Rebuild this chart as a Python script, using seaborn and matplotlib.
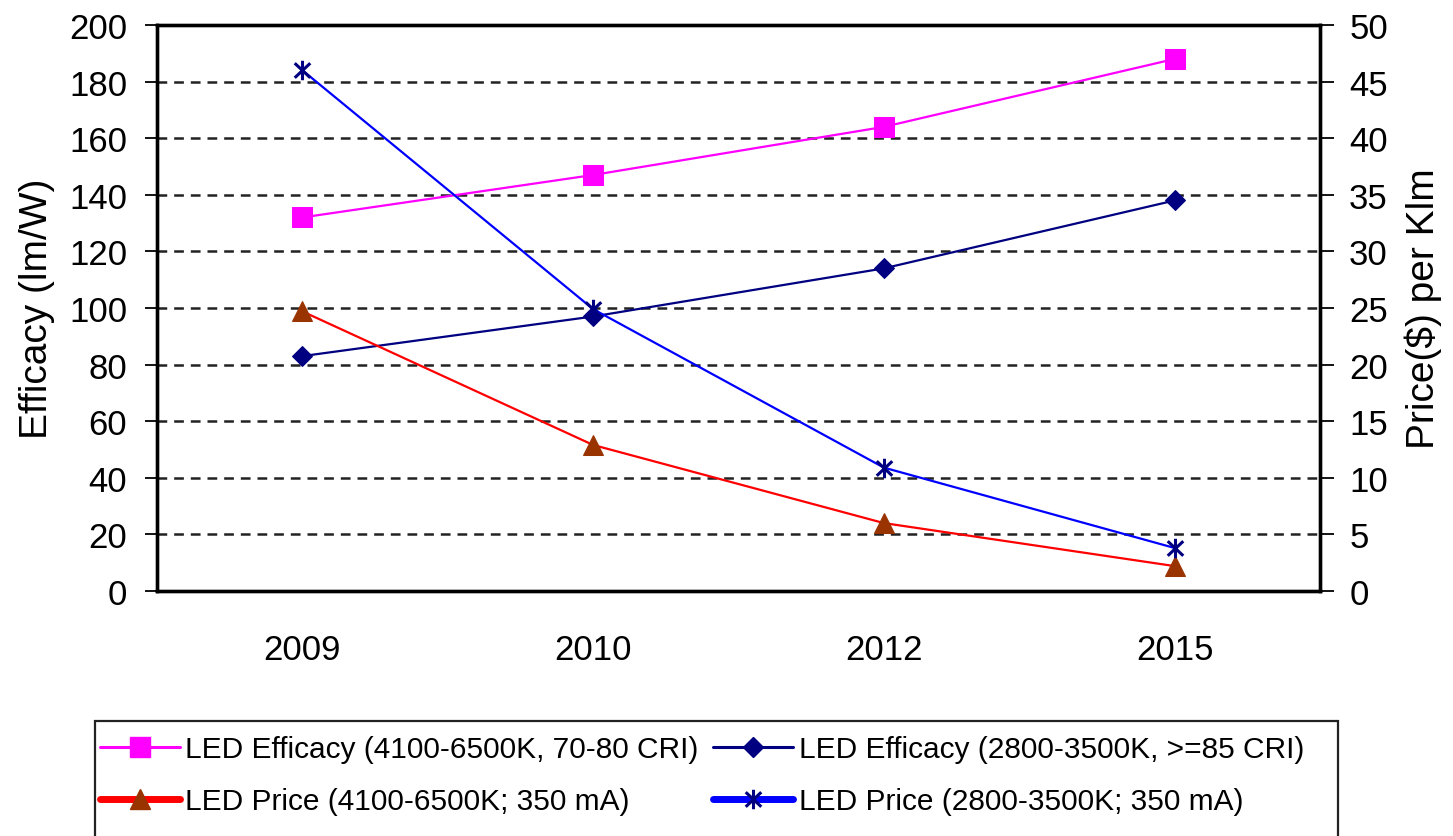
import matplotlib
matplotlib.use("Agg")
import matplotlib.pyplot as plt
from matplotlib.lines import Line2D
from matplotlib.path import Path
from matplotlib.patches import Rectangle
import seaborn as sns
import pandas as pd

# ---- data ----
years = ["2009", "2010", "2012", "2015"]
efficacy_cool = [132, 147, 164, 188]      # lm/W, 4100-6500K, 70-80 CRI
efficacy_warm = [83, 97, 114, 138]        # lm/W, 2800-3500K, >=85 CRI
price_cool = [24.7, 12.9, 6.0, 2.2]       # $/klm, 4100-6500K
price_warm = [46.0, 24.9, 10.9, 3.8]      # $/klm, 2800-3500K

label_eff_cool = "LED Efficacy (4100-6500K, 70-80 CRI)"
label_eff_warm = "LED Efficacy (2800-3500K, >=85 CRI)"
label_price_cool = "LED Price (4100-6500K; 350 mA)"
label_price_warm = "LED Price (2800-3500K; 350 mA)"

sns.set_theme(style="white")
plt.rcParams["lines.scale_dashes"] = False
plt.rcParams["font.family"] = ["Liberation Sans", "DejaVu Sans"]

pos = list(range(len(years)))
df = pd.DataFrame({
    "pos": pos,
    "eff_cool": efficacy_cool,
    "eff_warm": efficacy_warm,
    "price_cool": price_cool,
    "price_warm": price_warm,
})

# asterisk marker: vertical stroke plus two diagonals
star_path = Path(
    [(0, -1), (0, 1), (-0.8, -0.75), (0.8, 0.75), (-0.8, 0.75), (0.8, -0.75)],
    [Path.MOVETO, Path.LINETO, Path.MOVETO, Path.LINETO, Path.MOVETO, Path.LINETO],
)

PINK, NAVY, RED, BLUE, BROWN = "#FF00FF", "#000080", "#FF0000", "#0000FF", "#993300"

W, H = 1453, 837
fig = plt.figure(figsize=(W / 100, H / 100), dpi=100)
ax = fig.add_axes([157 / W, 1 - 592 / H, (1320 - 157) / W, (592 - 26) / H])
ax2 = ax.twinx()

sns.lineplot(data=df, x="pos", y="eff_cool", ax=ax, color=PINK, lw=1.6,
             marker="s", markersize=14, markeredgecolor=PINK)
sns.lineplot(data=df, x="pos", y="eff_warm", ax=ax, color=NAVY, lw=1.6,
             marker="D", markersize=10, markeredgecolor=NAVY)
sns.lineplot(data=df, x="pos", y="price_cool", ax=ax2, color=RED, lw=1.6,
             marker="^", markersize=15, markerfacecolor=BROWN, markeredgecolor=BROWN)
sns.lineplot(data=df, x="pos", y="price_warm", ax=ax2, color=BLUE, lw=1.6,
             marker=star_path, markersize=14, markeredgewidth=2.2,
             markeredgecolor=NAVY, markerfacecolor="none")

# axes ranges
ax.set_xlim(-0.5, len(years) - 0.5)
ax.set_ylim(0, 200)
ax2.set_ylim(0, 50)
ax.set_yticks(range(0, 201, 20))
ax2.set_yticks(range(0, 51, 5))

# category boundaries as major ticks, year labels centred on minor ticks
ax.set_xticks([p - 0.5 for p in pos] + [len(years) - 0.5])
ax.set_xticklabels([])
ax.set_xticks(pos, minor=True)
ax.set_xticklabels(years, minor=True)
ax.tick_params(axis="x", which="major", direction="inout", length=19, width=1.3, color="black")
ax.tick_params(axis="x", which="minor", length=0, pad=30, labelsize=25, labelcolor="black")
ax.tick_params(axis="y", which="major", direction="out", length=8.6, width=1.3,
               color="black", pad=13, labelsize=25, labelcolor="black", left=True)
ax2.tick_params(axis="y", which="major", direction="out", length=10, width=1.3,
                color="black", pad=11, labelsize=25, labelcolor="black", right=True)

ax.set_xlabel("")
ax2.set_xlabel("")
ax.set_ylabel("Efficacy (lm/W)", fontsize=28, labelpad=10, color="black")
ax2.set_ylabel("Price($) per Klm", fontsize=28, labelpad=12, color="black")

# dashed horizontal gridlines
ax.yaxis.grid(True, linestyle=(0, (7, 5)), color="#222222", linewidth=1.8)
ax.xaxis.grid(False)
ax2.grid(False)
ax.set_axisbelow(True)

for a in (ax, ax2):
    for s in a.spines.values():
        s.set_visible(True)
        s.set_color("black")
        s.set_linewidth(2.4)

# legend box (runs past the lower edge of the figure)
fig.patches.append(Rectangle((95 / W, -0.05), (1338 - 95) / W, 0.05 + (837 - 722) / H,
                             transform=fig.transFigure, fill=False,
                             edgecolor="#222222", linewidth=1.6))

handles = [
    Line2D([], [], color=PINK, lw=2.2, marker="s", markersize=14, markeredgecolor=PINK),
    Line2D([], [], color=RED, lw=5, marker="^", markersize=15,
           markerfacecolor=BROWN, markeredgecolor=BROWN),
    Line2D([], [], color=NAVY, lw=2.2, marker="D", markersize=10, markeredgecolor=NAVY),
    Line2D([], [], color=BLUE, lw=5, marker=star_path, markersize=14, markeredgewidth=2.2,
           markeredgecolor=NAVY, markerfacecolor="none"),
]
labels = [label_eff_cool, label_price_cool, label_eff_warm, label_price_warm]
leg = fig.legend(handles, labels, ncol=2, loc="upper left",
                 bbox_to_anchor=(100 / W, 1 - 736 / H),
                 borderaxespad=0, borderpad=0, fontsize=21.5, frameon=False,
                 handlelength=2.68, handletextpad=0.17,
                 columnspacing=0.5, labelspacing=0.82)
for t in leg.get_texts():
    t.set_color("black")

fig.savefig("out.png", dpi=100, facecolor="white")
